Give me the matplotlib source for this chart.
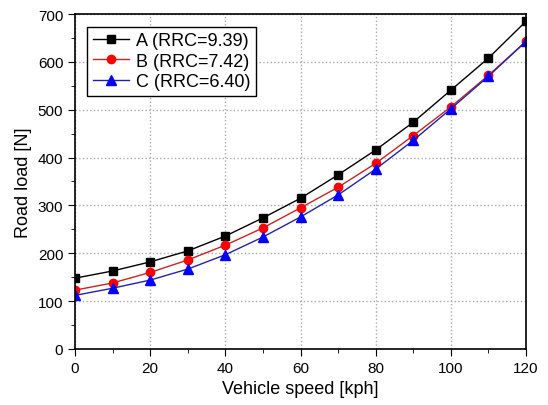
import matplotlib
matplotlib.use("Agg")
import matplotlib.pyplot as plt
from matplotlib.ticker import MultipleLocator

plt.rcParams['font.family'] = ['Liberation Sans', 'DejaVu Sans']

speed = [0, 10, 20, 30, 40, 50, 60, 70, 80, 90, 100, 110, 120]
load_a = [148, 163, 182, 205, 236, 274, 315, 364, 416, 474, 541, 608, 685]
load_b = [123, 138, 160, 186, 217, 253, 295, 338, 388, 446, 506, 572, 643]
load_c = [112, 127, 144, 167, 197, 234, 276, 322, 376, 436, 502, 570, 643]
labels = ["A (RRC=9.39)", "B (RRC=7.42)", "C (RRC=6.40)"]

fig = plt.figure(figsize=(5.48, 4.06), dpi=100)
ax = fig.add_axes([0.137, 0.138, 0.823, 0.825])

ax.plot(speed, load_a, color='black', marker='s', markersize=6, lw=1, label=labels[0])
ax.plot(speed, load_b, color='#cc2222', marker='o', markersize=6, lw=1,
        markerfacecolor='red', markeredgecolor='red', label=labels[1])
ax.plot(speed, load_c, color='#2222aa', marker='^', markersize=7, lw=1,
        markerfacecolor='blue', markeredgecolor='blue', label=labels[2])

ax.set_xlim(0, 120)
ax.set_ylim(0, 700)
ax.xaxis.set_major_locator(MultipleLocator(20))
ax.xaxis.set_minor_locator(MultipleLocator(10))
ax.yaxis.set_major_locator(MultipleLocator(100))
ax.yaxis.set_minor_locator(MultipleLocator(50))
ax.tick_params(which='major', direction='out', length=5, labelsize=11)
ax.tick_params(which='minor', direction='out', length=3)
ax.grid(True, which='major', color='#aaaaaa', linestyle=':', linewidth=1)
for s in ax.spines.values():
    s.set_linewidth(1.2)

ax.set_xlabel("Vehicle speed [kph]", fontsize=13)
ax.set_ylabel("Road load [N]", fontsize=13)

leg = ax.legend(loc='upper left', bbox_to_anchor=(0.027, 0.962), borderaxespad=0,
                fontsize=13, fancybox=False, edgecolor='black', framealpha=1,
                handlelength=2.0, borderpad=0.3, labelspacing=0.2, handletextpad=0.4)
leg.get_frame().set_linewidth(1)

fig.savefig("out.png", dpi=100)
